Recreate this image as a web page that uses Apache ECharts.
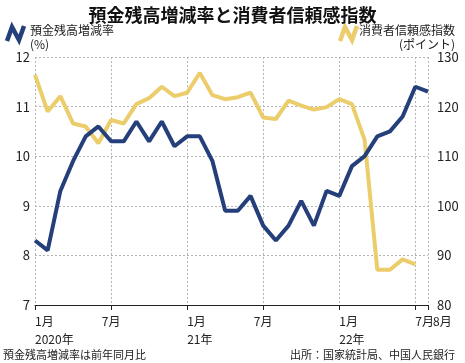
<!DOCTYPE html>
<html><head><meta charset="utf-8">
<script src="https://cdn.jsdelivr.net/npm/echarts@6/dist/echarts.min.js"></script>
<style>html,body{margin:0;padding:0;background:#fff}#c{width:465px;height:363px}</style>
</head><body><div id="c"></div>
<script>
const categories = [
 '2020-01','2020-02','2020-03','2020-04','2020-05','2020-06','2020-07','2020-08','2020-09','2020-10','2020-11','2020-12',
 '2021-01','2021-02','2021-03','2021-04','2021-05','2021-06','2021-07','2021-08','2021-09','2021-10','2021-11','2021-12',
 '2022-01','2022-02','2022-03','2022-04','2022-05','2022-06','2022-07','2022-08'];
const depositGrowth = [8.3,8.1,9.3,9.9,10.4,10.6,10.3,10.3,10.7,10.3,10.7,10.2,
 10.4,10.4,9.9,8.9,8.9,9.2,8.6,8.3,8.6,9.1,8.6,9.3,
 9.2,9.8,10.0,10.4,10.5,10.8,11.4,11.3];
const consumerConfidence = [126.4,119.0,122.1,116.6,116.0,112.6,117.3,116.6,120.5,121.7,124.0,122.1,
 122.8,126.8,122.3,121.5,121.9,122.8,117.8,117.5,121.2,120.2,119.4,119.9,
 121.5,120.5,113.3,87.1,87.1,89.2,88.2,null];
const tickIndex = [0,6,12,18,24,30,31];
const tickText = ['1月\n2020年','7月','1月\n21年','7月','1月\n22年','7月','8月'];
const leftTicks = [7,8,9,10,11,12];
const rightTicks = [80,90,100,110,120,130];

const BLUE = '#243f7a', YELLOW = '#ebcd6b';
const FONT = '"Noto Sans CJK JP", "Noto Sans", sans-serif';
const chart = echarts.init(document.getElementById('c'));
const isTick = (i) => tickIndex.indexOf(i) >= 0;
const textOf = (i) => { const k = tickIndex.indexOf(i); return k < 0 ? '' : tickText[k]; };

const centered = [6, 18];
const leftAligned = [0, 12, 24, 30];
const shifted = [31];

function labelAxis(indices, align, padLeft, withLine) {
  return {
    type: 'category', data: categories, boundaryGap: false, position: 'bottom', offset: 0,
    axisLine: withLine ? { lineStyle: { color: '#222', width: 1 } } : { show: false },
    axisTick: withLine ? { interval: (i) => isTick(i), length: 5, lineStyle: { color: '#222' } } : { show: false },
    splitLine: withLine ? { show: true, interval: (i) => isTick(i), lineStyle: { type: [2, 2], color: '#b5b5b5' } } : { show: false },
    axisLabel: {
      interval: (i) => indices.indexOf(i) >= 0, hideOverlap: false,
      align: align, padding: [0, 0, 0, padLeft],
      margin: 7, color: '#222', fontSize: 12, lineHeight: 18, fontFamily: FONT,
      formatter: (v, i) => indices.indexOf(i) >= 0 ? textOf(i) : ''
    }
  };
}

chart.setOption({
  animation: false,
  textStyle: { fontFamily: FONT },
  title: {
    text: '預金残高増減率と消費者信頼感指数', left: 'center', top: 1,
    textStyle: { fontSize: 18, fontWeight: 'bold', color: '#111', fontFamily: FONT }
  },
  grid: { left: 35, right: 37, top: 57, bottom: 58 },
  xAxis: [
    labelAxis(centered, 'center', 0, true),
    labelAxis(leftAligned, 'left', 0, false),
    labelAxis(shifted, 'left', 5, false)
  ],
  yAxis: [
    {
      type: 'value', min: leftTicks[0], max: leftTicks[leftTicks.length - 1], interval: 1,
      axisLine: { show: false }, axisTick: { show: false },
      axisLabel: { margin: 5, color: '#222', fontSize: 13, fontFamily: FONT },
      splitLine: { lineStyle: { type: [2, 2], color: '#b5b5b5' } }
    },
    {
      type: 'value', min: rightTicks[0], max: rightTicks[rightTicks.length - 1], interval: 10,
      axisLine: { show: false }, axisTick: { show: false },
      axisLabel: { margin: 9, color: '#222', fontSize: 13, fontFamily: FONT },
      splitLine: { show: false }
    }
  ],
  series: [
    { name: '消費者信頼感指数', type: 'line', xAxisIndex: 0, yAxisIndex: 1, data: consumerConfidence,
      showSymbol: false, lineStyle: { color: YELLOW, width: 4 }, itemStyle: { color: YELLOW } },
    { name: '預金残高増減率', type: 'line', xAxisIndex: 0, yAxisIndex: 0, data: depositGrowth,
      showSymbol: false, lineStyle: { color: BLUE, width: 4 }, itemStyle: { color: BLUE } }
  ],
  graphic: [
    { type: 'polyline', shape: { points: [[7, 41], [12, 27], [19, 40], [24, 26]] },
      style: { stroke: BLUE, lineWidth: 4.5, fill: null, lineJoin: 'miter' } },
    { type: 'text', left: 30, top: 24, style: { text: '預金残高増減率', fontSize: 12, fill: '#222', fontFamily: FONT } },
    { type: 'text', left: 30, top: 38, style: { text: '(%)', fontSize: 12, fill: '#222', fontFamily: FONT } },
    { type: 'polyline', shape: { points: [[340, 41], [345, 27], [352, 40], [357, 26]] },
      style: { stroke: YELLOW, lineWidth: 4.5, fill: null, lineJoin: 'miter' } },
    { type: 'text', right: 10, top: 24, style: { text: '消費者信頼感指数', fontSize: 12, fill: '#222', fontFamily: FONT } },
    { type: 'text', right: 10, top: 38, style: { text: '(ポイント)', fontSize: 12, fill: '#222', fontFamily: FONT } },
    { type: 'text', left: 3, top: 349, style: { text: '預金残高増減率は前年同月比', fontSize: 11, fill: '#222', fontFamily: FONT } },
    { type: 'text', right: 10, top: 349, style: { text: '出所：国家統計局、中国人民銀行', fontSize: 11, fill: '#222', fontFamily: FONT } }
  ]
});
</script></body></html>
